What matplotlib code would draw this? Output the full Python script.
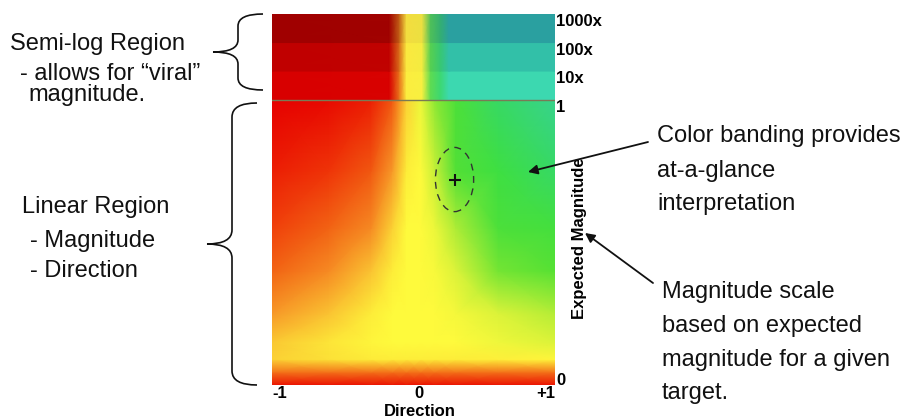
import numpy as np
import matplotlib
matplotlib.use('Agg')
import matplotlib.pyplot as plt
import matplotlib.transforms as mtransforms
from matplotlib.colors import LinearSegmentedColormap
from matplotlib.patches import Ellipse, PathPatch
from matplotlib.path import Path

# linear region: score (-1 red, 0 yellow, +1 teal)
direction = [-1.0, -0.6, -0.3, -0.15, -0.05, 0.05, 0.15, 0.3, 0.6, 1.0]
magnitude = [0.0, 0.045, 0.09, 0.15, 0.25, 0.4, 0.55, 0.75, 1.0]
score = [
    [-0.90, -0.90, -0.90, -0.90, -0.90, -0.90, -0.90, -0.90, -0.90, -0.90],
    [-0.50, -0.50, -0.50, -0.50, -0.50, -0.50, -0.50, -0.50, -0.50, -0.50],
    [-0.15, -0.10, -0.06, -0.05, -0.05, -0.05, -0.05, -0.05, -0.04, -0.02],
    [-0.18, -0.08, -0.02, 0.00, 0.00, 0.00, 0.00, 0.00, 0.04, 0.10],
    [-0.35, -0.20, -0.05, 0.00, 0.00, 0.00, 0.00, 0.03, 0.10, 0.18],
    [-0.55, -0.40, -0.20, -0.05, 0.00, 0.00, 0.02, 0.10, 0.30, 0.38],
    [-0.70, -0.55, -0.40, -0.15, 0.00, 0.00, 0.05, 0.20, 0.45, 0.50],
    [-0.85, -0.75, -0.60, -0.35, -0.05, 0.00, 0.15, 0.40, 0.55, 0.75],
    [-1.00, -0.95, -0.85, -0.60, -0.15, 0.05, 0.25, 0.45, 0.75, 0.95],
]
score_stops = [-1.0, -0.8, -0.55, -0.3, -0.1, 0.0, 0.15, 0.35, 0.6, 1.0]
score_colors = ['#e60000', '#ee2805', '#f26414', '#f8a52d', '#fce137',
                '#fffa3c', '#c8f037', '#5ae132', '#37de46', '#37d296']

# semi-log region: three decade bands above magnitude 1
band_bottoms = [1.0, 1.1, 1.2]
band_height = 0.1
band_direction = [-1.0, -0.17, -0.1, -0.05, 0.06, 0.12, 0.19, 0.25, 1.0]
band_10x_colors = ['#d80000', '#d80000', '#e8701a', '#fcf040', '#f8f040',
                   '#60dc50', '#3cd870', '#3cd8b0', '#3cd8b0']
band_100x_colors = ['#c00000', '#c00000', '#d86818', '#fcec40', '#f4ec40',
                    '#58d050', '#38c870', '#32c0a8', '#32c0a8']
band_1000x_colors = ['#a00000', '#a00000', '#c05a14', '#f4e040', '#ece040',
                     '#50c058', '#34b070', '#2aa0a0', '#2aa0a0']

mag_ticks = [0, 1.0, 1.1, 1.2, 1.3]
mag_ticklabels = ['0', '1', '10x', '100x', '1000x']
dir_ticks = [-1, 0, 1]
dir_ticklabels = ['-1', '0', '+1']

# the "+" target and its uncertainty
target_dir = 0.29
target_mag = 0.72
target_width = 0.27
target_height = 0.225


def make_cmap(stops, colors, lo, hi):
    pos = [(s - lo) / (hi - lo) for s in stops]
    return LinearSegmentedColormap.from_list('c', list(zip(pos, colors)))


def brace(ax, x_right, x_spine, x_tip, y_top, y_tip, y_bot, r):
    verts = [(x_right, y_top), (x_spine, y_top), (x_spine, y_top + r),
             (x_spine, y_tip - r), (x_spine, y_tip), (x_tip, y_tip),
             (x_spine, y_tip), (x_spine, y_tip + r),
             (x_spine, y_bot - r), (x_spine, y_bot), (x_right, y_bot)]
    codes = [Path.MOVETO, Path.CURVE3, Path.CURVE3, Path.LINETO,
             Path.CURVE3, Path.CURVE3, Path.CURVE3, Path.CURVE3,
             Path.LINETO, Path.CURVE3, Path.CURVE3]
    ax.add_patch(PathPatch(Path(verts, codes), fill=False, lw=1.2, color='#111111'))


def main():
    plt.rcParams['font.family'] = ['Liberation Sans', 'DejaVu Sans']
    fig = plt.figure(figsize=(9.12, 4.19), dpi=100)
    W, H = 912, 419

    ax = fig.add_axes([272 / W, 1 - 385 / H, 283 / W, 371 / H])

    # linear region
    X, Y = np.meshgrid(direction, magnitude)
    cmap = make_cmap(score_stops, score_colors, -1, 1)
    ax.pcolormesh(X, Y, np.array(score), shading='gouraud', cmap=cmap, vmin=-1, vmax=1)

    # semi-log bands
    for bottom, cols in zip(band_bottoms, [band_10x_colors, band_100x_colors, band_1000x_colors]):
        bcmap = make_cmap(band_direction, cols, -1, 1)
        BX, BY = np.meshgrid(band_direction, [bottom, bottom + band_height])
        BC = np.array([band_direction, band_direction])
        ax.pcolormesh(BX, BY, BC, shading='gouraud', cmap=bcmap, vmin=-1, vmax=1)

    ax.axhline(1.0, color='#7a7a55', lw=1)

    ax.add_patch(Ellipse((target_dir, target_mag), target_width, target_height,
                         fill=False, ls=(0, (5, 4)), lw=1, color='#333333'))
    ax.plot([target_dir], [target_mag], marker='+', ms=9, mew=1.5, color='#111111')

    ax.set_xlim(-1, 1)
    ax.set_ylim(0, 1.3)
    for s in ax.spines.values():
        s.set_visible(False)

    ax.yaxis.tick_right()
    ax.set_yticks(mag_ticks)
    ax.set_yticklabels(mag_ticklabels, fontsize=12, fontweight='bold')
    ax.set_xticks(dir_ticks)
    ax.set_xticklabels(dir_ticklabels, fontsize=12, fontweight='bold')
    ax.tick_params(length=0, pad=1)
    for lab in ax.get_yticklabels():
        lab.set_va('top' if lab.get_text() != '0' else 'baseline')
    xl = ax.get_xticklabels()
    xl[0].set_ha('left')
    xl[-1].set_ha('right')
    # the "0" sits a little right of centre in the original
    shift = mtransforms.ScaledTranslation(5 / 100, 0, fig.dpi_scale_trans)
    xl[1].set_transform(xl[1].get_transform() + shift)

    ax.set_xlabel('Direction', fontsize=12, fontweight='bold', labelpad=2)
    ax.xaxis.label.set_x(0.523)
    ax.yaxis.set_label_position('right')
    ax.set_ylabel('Expected Magnitude', fontsize=12, fontweight='bold', labelpad=-22)
    ax.yaxis.label.set_y(0.395)

    # annotation layer in pixel coordinates
    ov = fig.add_axes([0, 0, 1, 1])
    ov.set_xlim(0, W)
    ov.set_ylim(H, 0)
    ov.axis('off')

    fs = 17
    for x, y, s in [(10, 50, 'Semi-log Region'),
                    (20, 80, '- allows for \u201cviral\u201d'),
                    (28, 101, 'magnitude.'),
                    (22, 213, 'Linear Region'),
                    (30, 247, '- Magnitude'),
                    (30, 277, '- Direction'),
                    (657, 142, 'Color banding provides'),
                    (657, 177, 'at-a-glance'),
                    (657, 210, 'interpretation'),
                    (662, 298, 'Magnitude scale'),
                    (662, 332, 'based on expected'),
                    (662, 366, 'magnitude for a given'),
                    (662, 399, 'target.')]:
        ov.text(x, y, s, fontsize=fs, va='baseline', ha='left', color='#111111')

    brace(ov, 263, 238, 213, 14, 52, 90, 12)
    brace(ov, 257, 232, 207, 103, 244, 385, 14)

    arrow = dict(arrowstyle='-|>', color='#111111', lw=1.3, mutation_scale=14,
                 shrinkA=0, shrinkB=0)
    ov.annotate('', xy=(528, 172), xytext=(648, 142), arrowprops=arrow)
    ov.annotate('', xy=(585, 233), xytext=(653, 283), arrowprops=arrow)

    fig.savefig('out.png', dpi=100)


if __name__ == '__main__':
    main()
